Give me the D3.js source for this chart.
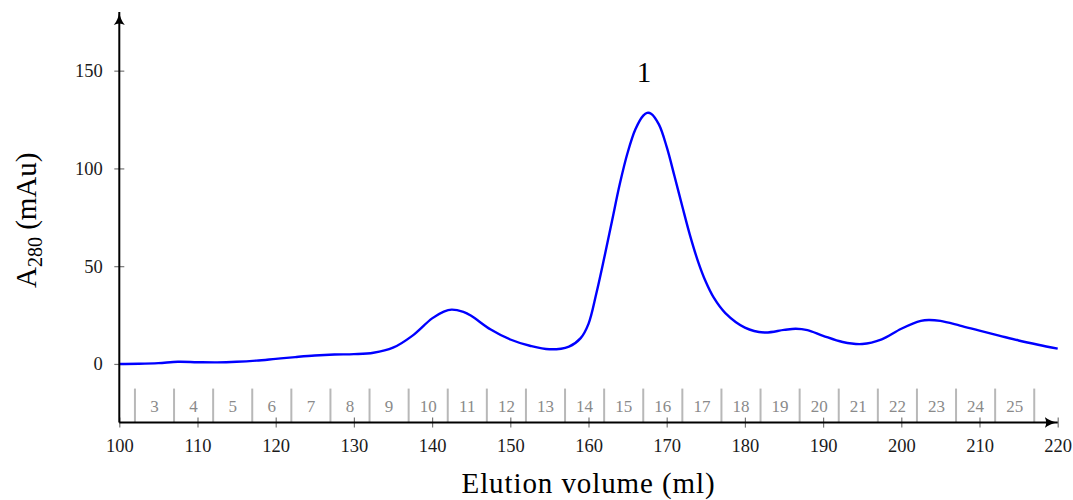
<!DOCTYPE html>
<html>
<head>
<meta charset="utf-8">
<script src="https://cdn.jsdelivr.net/npm/d3@7"></script>
<style>
  html, body { margin: 0; padding: 0; background: #fff; }
  svg { display: block; }
  text { font-family: "Liberation Serif", "DejaVu Serif", serif; }
</style>
</head>
<body>
<svg id="chart" width="1073" height="500"></svg>
<script>
// Elution volume (ml) and absorbance at 280 nm (mAu)
const volume = [100, 102.5, 105, 107.5, 110, 112.5, 115, 117.5, 120, 122.5, 125, 127.5, 130, 132.5, 135, 137.5, 140, 141.5, 142.5, 144, 145, 147.5, 150, 152.5, 155, 157.5, 159, 160, 161, 162, 163, 164, 165, 166, 167, 167.5, 168, 169, 170, 171, 172, 173, 174, 175, 176, 177.5, 180, 182.5, 185, 186.5, 188, 190, 192.5, 195, 197.5, 200, 202.5, 203.5, 205, 207.5, 210, 212.5, 215, 217.5, 220];
const a280 = [0, 0.1, 0.4, 1.1, 0.9, 0.8, 1.1, 1.7, 2.6, 3.5, 4.3, 4.8, 5.0, 5.7, 8.3, 14.5, 23.3, 26.8, 27.8, 26.6, 24.6, 17.6, 12.5, 9.3, 7.5, 8.9, 13.2, 20.5, 36, 54, 73, 92, 108, 120, 127, 128.4, 128, 122.5, 111, 96, 80.5, 65.5, 52.5, 42, 34, 26, 18.6, 16.1, 17.4, 18, 17.3, 14.4, 11.2, 10.2, 12.6, 18, 22, 22.5, 22, 19.6, 17, 14.5, 12, 9.8, 7.8];

// Fraction collector boundaries (ml) and fraction numbers
const fractionEdges = [102, 107, 112, 117, 122, 127, 132, 137, 142, 147, 152, 157, 162, 167, 172, 177, 182, 187, 192, 197, 202, 207, 212, 217];
const fractionLabels = ["3", "4", "5", "6", "7", "8", "9", "10", "11", "12", "13", "14", "15", "16", "17", "18", "19", "20", "21", "22", "23", "24", "25"];

// Axis ticks
const xTicks = [100, 110, 120, 130, 140, 150, 160, 170, 180, 190, 200, 210, 220];
const yTicks = [0, 50, 100, 150];

// Peak annotation
const peakName = "1";
const peakVolume = 167.1;

const width = 1073, height = 500;
const margin = { top: 12, right: 15.3, bottom: 77.4, left: 119.3 };

const svg = d3.select("#chart");

const x = d3.scaleLinear().domain([100, 220]).range([margin.left, width - margin.right]);
const y = d3.scaleLinear().domain([-30, 180]).range([height - margin.bottom, margin.top]);

// Arrowhead for axes
const defs = svg.append("defs");
defs.append("marker")
  .attr("id", "arrow")
  .attr("viewBox", "0 -6 14 12")
  .attr("refX", 13)
  .attr("refY", 0)
  .attr("markerUnits", "userSpaceOnUse")
  .attr("markerWidth", 14)
  .attr("markerHeight", 12)
  .attr("orient", "auto")
  .append("path")
  .attr("d", "M0,-5.5 Q5,-1.2 13,0 Q5,1.2 0,5.5 Q3,0 0,-5.5Z")
  .attr("fill", "#000");

// Fraction separators and numbers
const fracTop = y(-12.6), fracBottom = y(-30);
svg.append("g").selectAll("line")
  .data(fractionEdges)
  .join("line")
  .attr("x1", d => x(d)).attr("x2", d => x(d))
  .attr("y1", fracTop).attr("y2", fracBottom)
  .attr("stroke", "#b8b8b8")
  .attr("stroke-width", 2);

svg.append("g").selectAll("text")
  .data(fractionLabels)
  .join("text")
  .attr("x", (d, i) => x((fractionEdges[i] + fractionEdges[i + 1]) / 2))
  .attr("y", (fracTop + fracBottom) / 2)
  .attr("dy", "0.35em")
  .attr("text-anchor", "middle")
  .attr("font-size", 17)
  .attr("fill", "#8a8a8a")
  .text(d => d);

// X axis
const xAxis = d3.axisBottom(x).tickValues(xTicks).tickSize(0).tickPadding(0);
const gx = svg.append("g").attr("transform", `translate(0,${y(-30)})`).call(xAxis);
gx.select(".domain").remove();
gx.selectAll(".tick line").remove();
gx.selectAll(".tick").append("line")
  .attr("y1", -5).attr("y2", 5)
  .attr("stroke", "#777").attr("stroke-width", 1.2);
gx.selectAll(".tick text")
  .attr("y", 29).attr("dy", null)
  .attr("font-family", "Liberation Serif, serif")
  .attr("font-size", 18.5)
  .attr("fill", "#1a1a1a");

// Y axis
const yAxis = d3.axisLeft(y).tickValues(yTicks).tickSize(0).tickPadding(0);
const gy = svg.append("g").attr("transform", `translate(${x(100)},0)`).call(yAxis);
gy.select(".domain").remove();
gy.selectAll(".tick line").remove();
gy.selectAll(".tick").append("line")
  .attr("x1", -5).attr("x2", 5)
  .attr("stroke", "#777").attr("stroke-width", 1.2);
gy.selectAll(".tick text")
  .attr("x", -16.5)
  .attr("font-family", "Liberation Serif, serif")
  .attr("font-size", 18.5)
  .attr("fill", "#1a1a1a");

// Chromatogram trace
const trace = volume.map((v, i) => ({ v, a: a280[i] }));
const line = d3.line()
  .x(d => x(d.v))
  .y(d => y(d.a))
  .curve(d3.curveCatmullRom.alpha(0.5));

svg.append("path")
  .datum(trace)
  .attr("d", line)
  .attr("fill", "none")
  .attr("stroke", "#0000ff")
  .attr("stroke-width", 2.4)
  .attr("stroke-linejoin", "round");

// Axis lines with arrows
svg.append("line")
  .attr("x1", x(100)).attr("x2", x(220))
  .attr("y1", y(-30)).attr("y2", y(-30))
  .attr("stroke", "#000").attr("stroke-width", 2)
  .attr("marker-end", "url(#arrow)");
svg.append("line")
  .attr("x1", x(100)).attr("x2", x(100))
  .attr("y1", y(-30)).attr("y2", y(180))
  .attr("stroke", "#000").attr("stroke-width", 2)
  .attr("marker-end", "url(#arrow)");

// Peak label
const peakA = d3.max(a280);
svg.append("text")
  .attr("x", x(peakVolume))
  .attr("y", y(peakA) - 31)
  .attr("text-anchor", "middle")
  .attr("font-size", 29)
  .attr("fill", "#000")
  .text(peakName);

// Axis titles
svg.append("text")
  .attr("x", (x(100) + x(220)) / 2)
  .attr("y", 493)
  .attr("text-anchor", "middle")
  .attr("font-size", 29)
  .attr("letter-spacing", 0.9)
  .attr("fill", "#000")
  .text("Elution volume (ml)");

const yTitle = svg.append("text")
  .attr("transform", `translate(36,${(y(-30) + y(180)) / 2 + 3}) rotate(-90)`)
  .attr("text-anchor", "middle")
  .attr("font-size", 29)
  .attr("fill", "#000");
yTitle.append("tspan").text("A");
yTitle.append("tspan").attr("dy", 6).attr("font-size", 20).text("280");
yTitle.append("tspan").attr("dy", -6).text(" (mAu)");
</script>
</body>
</html>
